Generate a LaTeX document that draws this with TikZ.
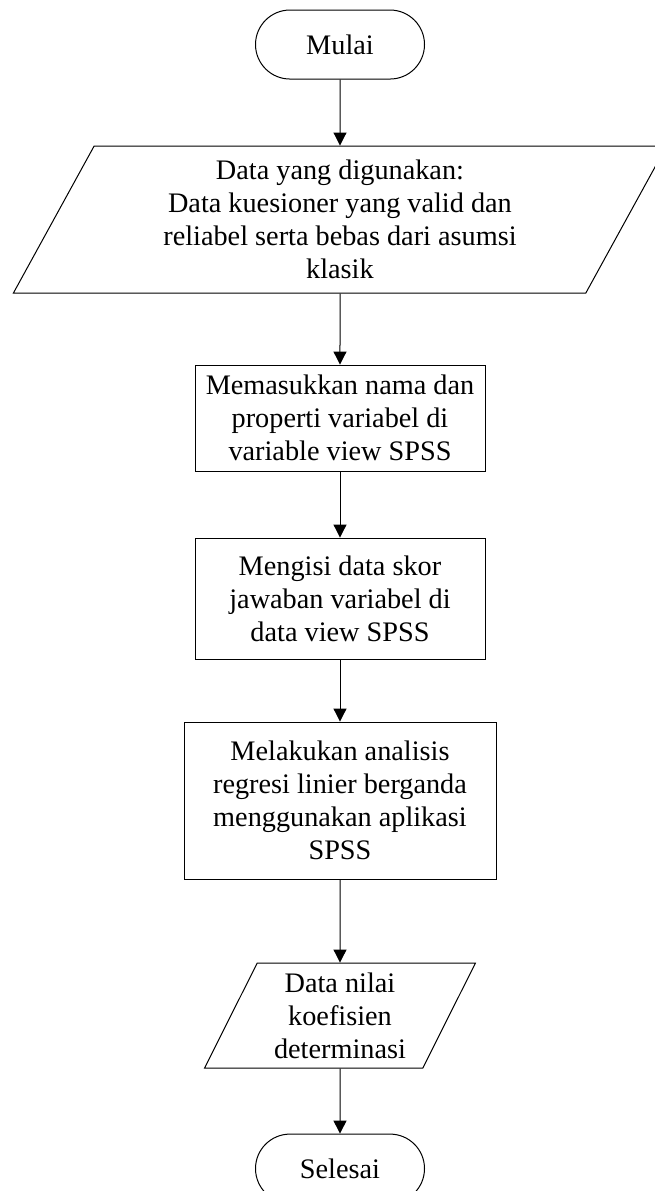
\documentclass[tikz,border=0pt]{standalone}
\usepackage{fontspec}
\setmainfont{Liberation Serif}
\usetikzlibrary{positioning,shapes.geometric,arrows.meta}

\begin{document}
\begin{tikzpicture}[
  font=\fontsize{21.2}{24.75}\selectfont,
  every node/.style={align=center,inner sep=0pt,line width=0.75pt},
  terminal/.style={draw,rectangle,rounded corners=25.875pt,minimum width=126.75pt,minimum height=51.75pt},
  process/.style={draw,rectangle,minimum width=217.5pt},
  data-io/.style={draw,trapezium,trapezium left angle=64,trapezium right angle=116,trapezium stretches=true},
  flow/.style={-{Triangle[width=9.75pt,length=9.75pt]},line width=0.75pt}
]
\useasboundingbox (0,0) rectangle (490.5pt,-893.25pt);

\node[terminal] (start) at (255pt,-33.4pt) {Mulai};
\node[data-io,minimum width=490.5pt,minimum height=110.25pt,below=49.5pt of start] (data-in) {Data yang digunakan:\\Data kuesioner yang valid dan\\reliabel serta bebas dari asumsi\\klasik};
\node[process,minimum height=79.5pt,below=53.25pt of data-in] (step-input) {Memasukkan nama dan\\properti variabel di\\variable view SPSS};
\node[process,minimum height=90.75pt,below=49.5pt of step-input] (step-fill) {Mengisi data skor\\jawaban variabel di\\data view SPSS};
\node[process,minimum width=234pt,minimum height=117.75pt,below=46.5pt of step-fill] (step-regress) {Melakukan analisis\\regresi linier berganda\\menggunakan aplikasi\\SPSS};
\node[data-io,minimum width=203.25pt,minimum height=78.75pt,below=62.25pt of step-regress] (data-out) {Data nilai\\koefisien\\determinasi};
\node[terminal,below=48.75pt of data-out] (finish) {Selesai};

\draw[flow] (start) -- (data-in);
\draw[flow] (data-in) -- (step-input);
\draw[flow] (step-input) -- (step-fill);
\draw[flow] (step-fill) -- (step-regress);
\draw[flow] (step-regress) -- (data-out);
\draw[flow] (data-out) -- (finish);
\end{tikzpicture}
\end{document}
